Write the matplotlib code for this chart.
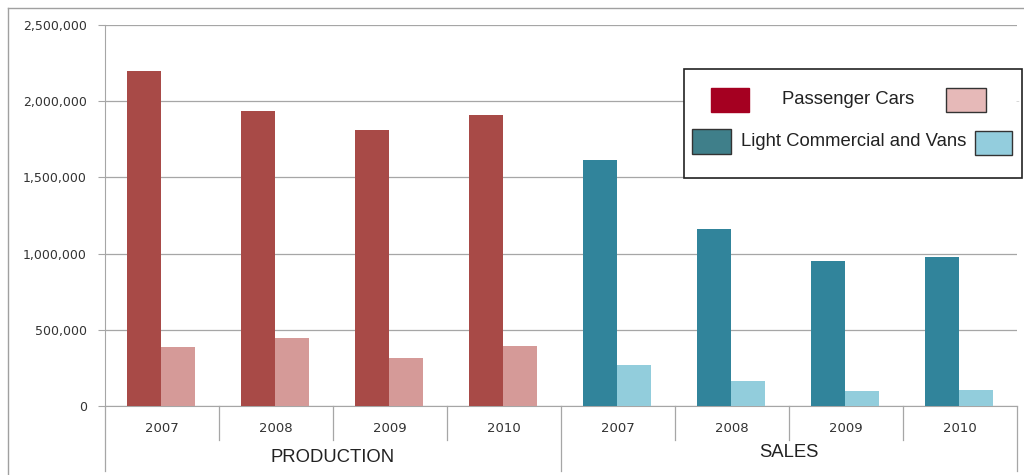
import matplotlib.pyplot as plt
import matplotlib.transforms as mtransforms
from matplotlib.patches import Rectangle
from matplotlib.lines import Line2D
import numpy as np

groups = ["PRODUCTION", "SALES"]
years = ["2007", "2008", "2009", "2010"]

prod_cars = [2198000, 1937000, 1810000, 1910000]
prod_lcv = [387000, 446000, 315000, 394000]
sales_cars = [1614000, 1161000, 951000, 978000]
sales_lcv = [269000, 164000, 98000, 105000]

prod_colors = ["#A84A47", "#D59A98"]
sales_colors = ["#31849B", "#92CDDC"]
legend_colors = ["#A50021", "#E6B9B8", "#3F7F8A", "#93CDDD"]
grid_color = "#A6A6A6"


def main():
    plt.rcParams["font.family"] = ["Liberation Sans", "DejaVu Sans"]
    fig = plt.figure(figsize=(10.24, 4.75), dpi=100)
    W, H = 1024, 475
    ax = fig.add_axes([105 / W, (H - 406) / H, (1017 - 105) / W, (406 - 25) / H])

    x_prod = np.arange(4)
    x_sales = np.arange(4, 8)
    bw = 0.3
    ax.bar(x_prod - 0.155, prod_cars, bw, color=prod_colors[0], zorder=3)
    ax.bar(x_prod + 0.14, prod_lcv, bw, color=prod_colors[1], zorder=3)
    ax.bar(x_sales - 0.155, sales_cars, bw, color=sales_colors[0], zorder=3)
    ax.bar(x_sales + 0.14, sales_lcv, bw, color=sales_colors[1], zorder=3)

    ax.set_xlim(-0.5, 7.5)
    ax.set_ylim(0, 2500000)
    ax.set_yticks(np.arange(0, 2500001, 500000))
    ax.set_yticklabels([f"{v:,}" for v in range(0, 2500001, 500000)],
                       family="DejaVu Sans", fontsize=9, color="#333333")
    ax.yaxis.grid(True, color=grid_color, linewidth=0.9, zorder=0)
    ax.tick_params(axis="y", length=5, color=grid_color, pad=8)
    ax.tick_params(axis="x", length=0)
    ax.set_xticks([])
    for s in ["top", "right"]:
        ax.spines[s].set_visible(False)
    ax.spines["left"].set_color(grid_color)
    ax.spines["bottom"].set_color(grid_color)

    # two-level category axis
    trans = mtransforms.blended_transform_factory(ax.transData, ax.transAxes)
    all_years = years + years
    for i, yr in enumerate(all_years):
        ax.text(i, -0.058, yr, transform=trans, ha="center", va="center",
                family="DejaVu Sans", fontsize=9.5, color="#333333")
    for b in np.arange(-0.5, 8.0, 1.0):
        low = -0.17 if b in (-0.5, 3.5, 7.5) else -0.09
        ax.add_line(Line2D([b, b], [0, low], transform=trans, color=grid_color,
                           linewidth=0.9, clip_on=False))
    ax.text(1.5, -0.135, groups[0], transform=trans, ha="center", va="center",
            fontsize=13.3, color="#222222")
    ax.text(5.5, -0.122, groups[1], transform=trans, ha="center", va="center",
            fontsize=13.3, color="#222222")

    # outer frame
    fig.add_artist(Line2D([8 / W, 8 / W], [0, 1 - 8 / H], color="#A0A0A0", linewidth=1))
    fig.add_artist(Line2D([8 / W, 1], [1 - 8 / H, 1 - 8 / H], color="#A0A0A0", linewidth=1))

    # legend box
    def fx(px):
        return px / W

    def fy(py):
        return 1 - py / H

    fig.add_artist(Rectangle((fx(684), fy(178)), fx(1022) - fx(684), fy(69) - fy(178),
                             transform=fig.transFigure, facecolor="white",
                             edgecolor="#222222", linewidth=1.2, zorder=5))
    patches = [(711, 88, 38, 24, legend_colors[0]), (946, 88, 40, 24, legend_colors[1]),
               (692, 129, 39, 25, legend_colors[2]), (975, 131, 37, 24, legend_colors[3])]
    for px, py, pw, ph, c in patches:
        fig.add_artist(Rectangle((fx(px), fy(py + ph)), pw / W, ph / H,
                                 transform=fig.transFigure, facecolor=c,
                                 edgecolor="#333333" if c != legend_colors[0] else c,
                                 linewidth=1, zorder=6))
    fig.text(fx(848), fy(100), "Passenger Cars", ha="center", va="center",
             fontsize=13.3, color="#222222", zorder=7)
    fig.text(fx(854), fy(142), "Light Commercial and Vans", ha="center", va="center",
             fontsize=13.3, color="#222222", zorder=7)
    fig.text(fx(1017), fy(101), "-", ha="center", va="center",
             fontsize=8, color="#CCCCCC", zorder=7)

    fig.savefig("out.png", dpi=100)


if __name__ == "__main__":
    main()
